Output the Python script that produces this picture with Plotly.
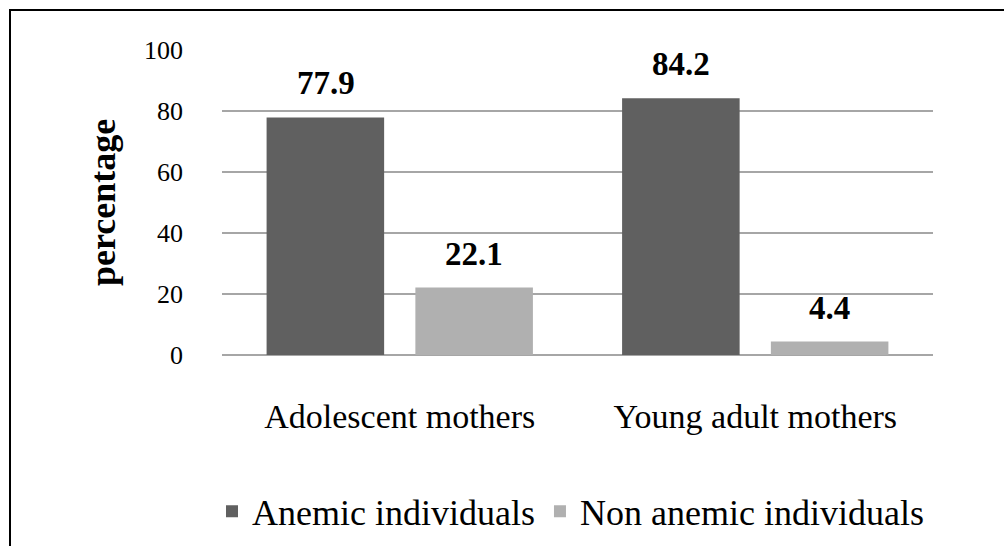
import plotly.graph_objects as go

categories = ["Adolescent mothers", "Young adult mothers"]
series_names = ["Anemic individuals", "Non anemic individuals"]
anemic = [77.9, 84.2]
non_anemic = [22.1, 4.4]
y_ticks = [0, 20, 40, 60, 80, 100]

colors = ["#606060", "#b0b0b0"]
FONT = "Liberation Serif"

fig = go.Figure()
for name, vals, col in zip(series_names, [anemic, non_anemic], colors):
    fig.add_trace(go.Bar(x=categories, y=vals, name=name, marker=dict(color=col, line=dict(width=0))))

# value labels above bars
offsets = [-74, 74]
for vals, dx in zip([anemic, non_anemic], offsets):
    for c, v in zip(categories, vals):
        fig.add_annotation(x=c, y=v, text="<b>%.1f</b>" % v, xref="x", yref="y",
                           showarrow=False, xshift=dx, yshift=14, yanchor="bottom",
                           font=dict(family=FONT, size=33, color="black"))

# y-axis title
fig.add_annotation(x=-0.168, y=0.5, xref="paper", yref="paper", text="<b>percentage</b>",
                   textangle=-90, showarrow=False, xanchor="center", yanchor="middle",
                   font=dict(family=FONT, size=36, color="black"))

# outer frame (left and top edges)
L, R, T, B = 222, 933, 50, 355
W, H = R - L, B - T
def px(x): return (x - L) / W
def py(y): return (B - y) / H
fig.add_shape(type="line", xref="paper", yref="paper", x0=px(10), x1=px(10), y0=py(548), y1=py(10),
              line=dict(color="black", width=2))
fig.add_shape(type="line", xref="paper", yref="paper", x0=px(9), x1=px(1006), y0=py(10), y1=py(10),
              line=dict(color="black", width=2))

fig.update_layout(
    width=1004, height=546,
    margin=dict(l=L, r=1004 - R, t=T, b=546 - B, autoexpand=False),
    paper_bgcolor="white", plot_bgcolor="white",
    barmode="group", bargap=0.163, bargroupgap=0.21,
    font=dict(family=FONT, color="black"),
    showlegend=True,
    legend=dict(orientation="h", x=px(212), y=-0.513, xanchor="left", yanchor="middle",
                font=dict(family=FONT, size=36, color="black"), itemwidth=30,
                bgcolor="rgba(0,0,0,0)", tracegroupgap=0),
    xaxis=dict(showgrid=False, showline=False, zeroline=False, ticks="", automargin=False,
               tickfont=dict(family=FONT, size=34, color="black"), ticklabelstandoff=38),
    yaxis=dict(range=[0, 100], tickvals=y_ticks, showgrid=True, gridcolor="#a6a6a6", gridwidth=1.5,
               zeroline=True, zerolinecolor="#a6a6a6", zerolinewidth=1.5, showline=False, ticks="",
               automargin=False,
               tickfont=dict(family=FONT, size=26, color="black"), ticklabelstandoff=38),
)

fig.write_html("out.html")
